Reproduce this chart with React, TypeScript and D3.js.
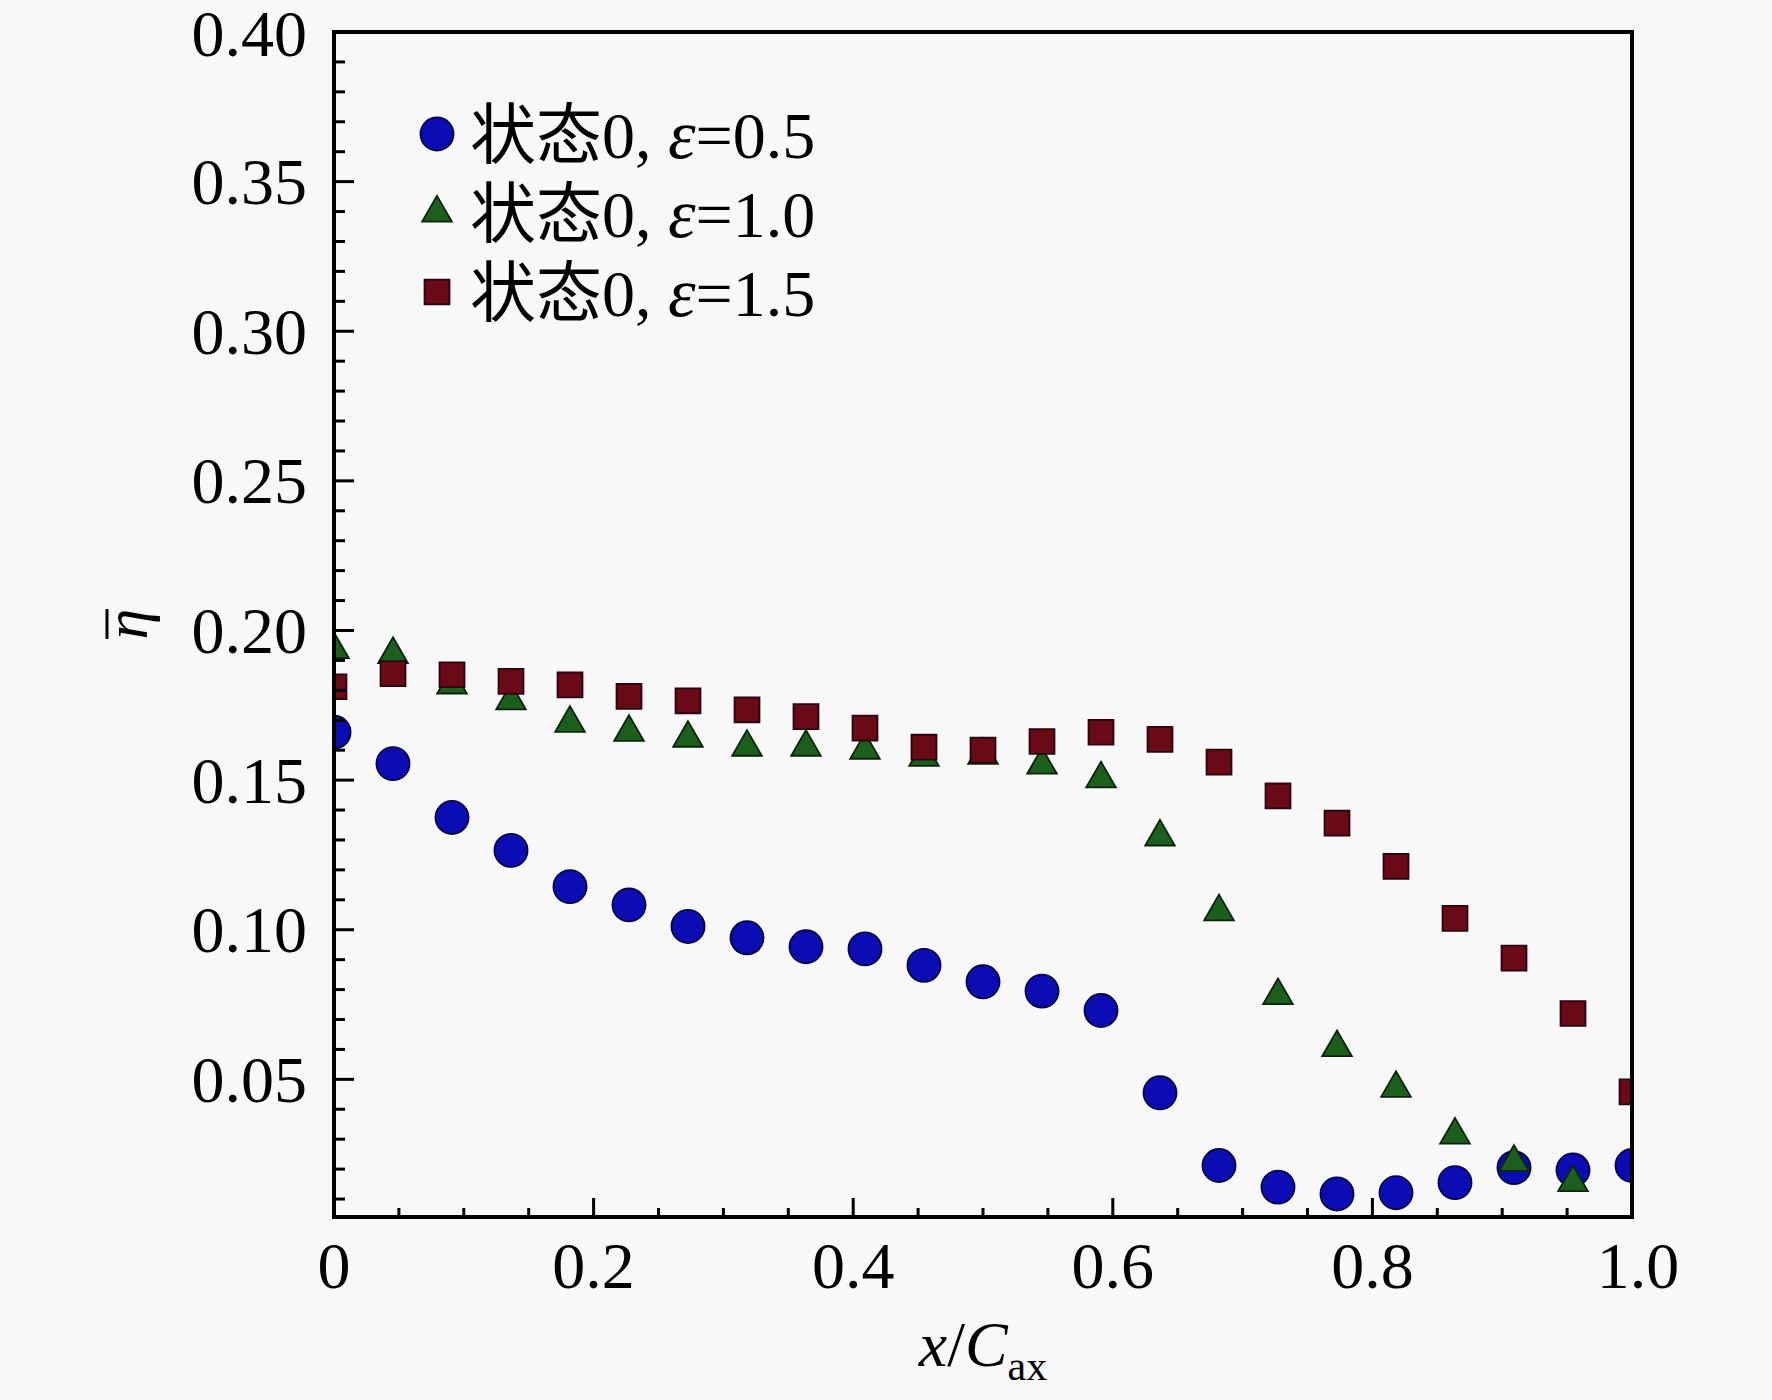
import { useMemo } from 'react';
import { scaleLinear, range, symbol, symbolCircle, symbolTriangle, symbolSquare } from 'd3';

// x positions are i/22, i = 0..22
const xIndex = range(23);

const eps05 = [
  0.166, 0.1555, 0.1375, 0.1265, 0.1144, 0.1083, 0.1011, 0.0973, 0.0943, 0.0936, 0.0881, 0.0826,
  0.0795, 0.0730, 0.0455, 0.0212, 0.0140, 0.0117, 0.0121, 0.0155, 0.0205, 0.0197, 0.0212,
];

const eps10 = [
  0.1936, 0.192, 0.1818, 0.1765, 0.169, 0.166, 0.164, 0.161, 0.161, 0.160, 0.1576, 0.1583, 0.155,
  0.1504, 0.131, 0.106, 0.078, 0.0606, 0.047, 0.0314, 0.0223, 0.0155,
];

const eps15 = [
  0.1812, 0.1856, 0.1852, 0.183, 0.1818, 0.178, 0.1765, 0.1735, 0.1712, 0.1674, 0.161, 0.160,
  0.1629, 0.166, 0.1636, 0.156, 0.1447, 0.1356, 0.1212, 0.1038, 0.0905, 0.072, 0.0458,
];

const legendLabels = ['0.5', '1.0', '1.5'];
const xTickValues = [0, 0.2, 0.4, 0.6, 0.8, 1.0];
const xTickLabels = ['0', '0.2', '0.4', '0.6', '0.8', '1.0'];
const yTickValues = [0.05, 0.1, 0.15, 0.2, 0.25, 0.3, 0.35, 0.4];
const yTickLabels = ['0.05', '0.10', '0.15', '0.20', '0.25', '0.30', '0.35', '0.40'];

const W = 1772;
const H = 1400;
const plot = { left: 334, right: 1632, top: 32, bottom: 1217 };
const serif = '"Liberation Serif", "Times New Roman", "Noto Sans CJK SC", serif';

export default function App() {
  const x = useMemo(() => scaleLinear().domain([0, 1]).range([plot.left, plot.right]), []);
  const y = useMemo(() => scaleLinear().domain([0.004, 0.4]).range([plot.bottom, plot.top]), []);

  const circlePath = symbol().type(symbolCircle).size(860)() as string;
  const trianglePath = symbol().type(symbolTriangle).size(380)() as string;
  const squarePath = symbol().type(symbolSquare).size(620)() as string;

  const series = [
    { values: eps05, path: circlePath, fill: '#0c0cb4', stroke: '#03034a' },
    { values: eps10, path: trianglePath, fill: '#1c5e1c', stroke: '#0a240a' },
    { values: eps15, path: squarePath, fill: '#6a0a16', stroke: '#2a0410' },
  ];

  const xMinor = range(0, 1.0001, 0.05);
  const yMinor = range(0.01, 0.4001, 0.01);

  return (
    <div style={{ position: 'absolute', left: 0, top: 0 }}>
      <svg width={W} height={H} style={{ display: 'block', background: '#f8f8f8' }} fontFamily={serif}>
        <defs>
          <clipPath id="plot-clip">
            <rect x={plot.left} y={plot.top} width={plot.right - plot.left} height={plot.bottom - plot.top} />
          </clipPath>
        </defs>

        {/* markers */}
        <g clipPath="url(#plot-clip)">
          {series.map((s, si) => (
            <g key={si}>
              {s.values.map((v, i) => (
                <path
                  key={i}
                  d={s.path}
                  transform={`translate(${x(xIndex[i] / 22)},${y(v)})`}
                  fill={s.fill}
                  stroke={s.stroke}
                  strokeWidth={1.8}
                />
              ))}
            </g>
          ))}
        </g>

        {/* minor + major ticks, pointing inward */}
        <g stroke="#000" strokeWidth={3}>
          {xMinor.map((t, i) => {
            const major = xTickValues.some((m) => Math.abs(m - t) < 1e-6);
            return (
              <line key={`xm${i}`} x1={x(t)} x2={x(t)} y1={plot.bottom} y2={plot.bottom - (major ? 19 : 9)} />
            );
          })}
          {yMinor.map((t, i) => {
            const major = yTickValues.some((m) => Math.abs(m - t) < 1e-6);
            return (
              <line key={`ym${i}`} x1={plot.left} x2={plot.left + (major ? 20 : 11)} y1={y(t)} y2={y(t)} />
            );
          })}
        </g>

        <rect
          x={plot.left}
          y={plot.top}
          width={plot.right - plot.left}
          height={plot.bottom - plot.top}
          fill="none"
          stroke="#000"
          strokeWidth={4}
        />

        {/* tick labels */}
        <g fontSize={66} fill="#000">
          {xTickValues.map((t, i) => (
            <text key={`xl${i}`} x={x(t) + (i === 5 ? 6 : 0)} y={1288} textAnchor="middle">
              {xTickLabels[i]}
            </text>
          ))}
          {yTickValues.map((t, i) => (
            <text key={`yl${i}`} x={307} y={y(t) + (i === 7 ? 2 : 0)} dy="0.34em" textAnchor="end">
              {yTickLabels[i]}
            </text>
          ))}
        </g>

        {/* axis titles */}
        <text x={(plot.left + plot.right) / 2} y={1366} textAnchor="middle" fontSize={64} fill="#000">
          <tspan fontStyle="italic">x</tspan>
          <tspan>/</tspan>
          <tspan fontStyle="italic">C</tspan>
          <tspan fontSize={42} dy={14}>
            ax
          </tspan>
        </text>
        <text
          x={147}
          y={624}
          transform="rotate(-90 147 624)"
          textAnchor="middle"
          fontSize={62}
          fontStyle="italic"
          fill="#000"
        >
          η
        </text>
        <line x1={107} x2={107} y1={609} y2={639} stroke="#000" strokeWidth={3} />

        {/* legend */}
        <g>
          {series.map((s, i) => {
            const ly = 134 + i * 79;
            return (
              <g key={`lg${i}`}>
                <path d={s.path} transform={`translate(437,${ly})`} fill={s.fill} stroke={s.stroke} strokeWidth={1.8} />
                <text x={470} y={ly} dy="0.36em" fontSize={66} fill="#000">
                  <tspan>状态0, </tspan>
                  <tspan fontStyle="italic" fontSize={70}>ε</tspan>
                  <tspan>={legendLabels[i]}</tspan>
                </text>
              </g>
            );
          })}
        </g>
      </svg>
    </div>
  );
}
